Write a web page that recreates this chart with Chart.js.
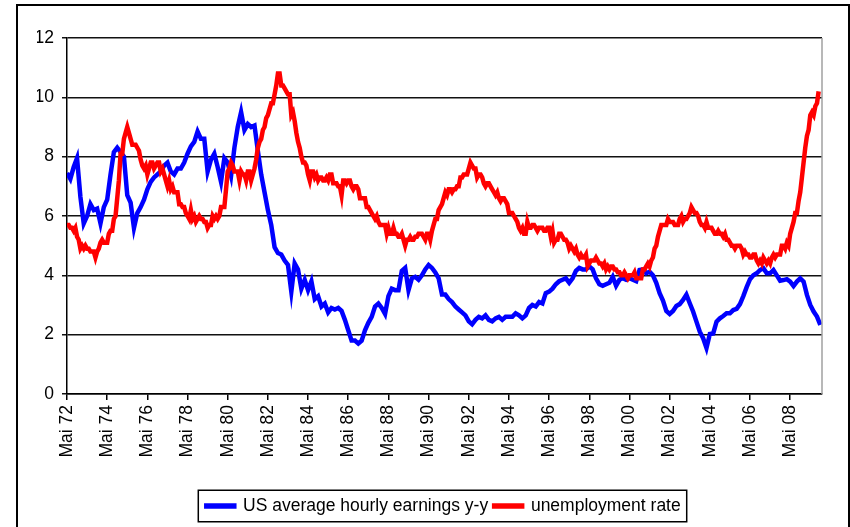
<!DOCTYPE html>
<html>
<head>
<meta charset="utf-8">
<script src="https://cdn.jsdelivr.net/npm/chart.js@4/dist/chart.umd.min.js"></script>
<style>
  body { margin: 0; background: #fff; }
  #wrap { position: absolute; left: 0; top: 0; width: 850px; height: 527px; }
  #frame { position: absolute; left: 16px; top: 4px; width: 830px; height: 540px; border: 2px solid #000; }
</style>
</head>
<body>
<div id="frame"></div>
<div id="wrap"><canvas id="chart" width="850" height="527"></canvas></div>
<script>
// x axis: months since May 1972; a tick every 24 months
const tickLabels = ['Mai 72', 'Mai 74', 'Mai 76', 'Mai 78', 'Mai 80', 'Mai 82', 'Mai 84', 'Mai 86', 'Mai 88', 'Mai 90',
                    'Mai 92', 'Mai 94', 'Mai 96', 'Mai 98', 'Mai 00', 'Mai 02', 'Mai 04', 'Mai 06', 'Mai 08'];

// unemployment rate, monthly, May 72 - Oct 09
const unemploymentRate = [
  5.7, 5.7, 5.6, 5.6, 5.5, 5.6, 5.3, 5.2,
  4.9, 5.0, 4.9, 5.0, 4.9, 4.9, 4.8, 4.8, 4.8, 4.6, 4.8, 4.9,
  5.1, 5.2, 5.1, 5.1, 5.1, 5.4, 5.5, 5.5, 5.9, 6.0, 6.6, 7.2,
  8.1, 8.1, 8.6, 8.8, 9.0, 8.8, 8.6, 8.4, 8.4, 8.4, 8.3, 8.2,
  7.9, 7.7, 7.6, 7.7, 7.4, 7.6, 7.8, 7.8, 7.6, 7.7, 7.8, 7.8,
  7.5, 7.6, 7.4, 7.2, 7.0, 7.2, 6.9, 7.0, 6.8, 6.8, 6.8, 6.4,
  6.4, 6.3, 6.3, 6.1, 6.0, 5.9, 6.2, 5.9, 6.0, 5.8, 5.9, 6.0,
  5.9, 5.9, 5.8, 5.8, 5.6, 5.7, 5.7, 6.0, 5.9, 6.0, 5.9, 6.0,
  6.3, 6.3, 6.3, 6.9, 7.5, 7.6, 7.8, 7.7, 7.5, 7.5, 7.5, 7.2,
  7.5, 7.4, 7.4, 7.2, 7.5, 7.5, 7.2, 7.4, 7.6, 7.9, 8.3, 8.5,
  8.6, 8.9, 9.0, 9.3, 9.4, 9.6, 9.8, 9.8, 10.1, 10.4, 10.8, 10.8,
  10.4, 10.4, 10.3, 10.2, 10.1, 10.1, 9.4, 9.5, 9.2, 8.8, 8.5, 8.3,
  8.0, 7.8, 7.8, 7.7, 7.4, 7.2, 7.5, 7.5, 7.3, 7.4, 7.2, 7.3,
  7.3, 7.2, 7.2, 7.3, 7.2, 7.4, 7.4, 7.1, 7.1, 7.1, 7.0, 7.0,
  6.7, 7.2, 7.2, 7.1, 7.2, 7.2, 7.0, 6.9, 7.0, 7.0, 6.9, 6.6,
  6.6, 6.6, 6.6, 6.3, 6.3, 6.2, 6.1, 6.0, 5.9, 6.0, 5.8, 5.7,
  5.7, 5.7, 5.7, 5.4, 5.6, 5.4, 5.4, 5.6, 5.4, 5.4, 5.3, 5.3,
  5.4, 5.2, 5.0, 5.2, 5.2, 5.3, 5.2, 5.2, 5.3, 5.3, 5.4, 5.4,
  5.4, 5.3, 5.2, 5.4, 5.4, 5.2, 5.5, 5.7, 5.9, 5.9, 6.2, 6.3,
  6.4, 6.6, 6.8, 6.7, 6.9, 6.9, 6.8, 6.9, 6.9, 7.0, 7.0, 7.3,
  7.3, 7.4, 7.4, 7.4, 7.6, 7.8, 7.7, 7.6, 7.6, 7.3, 7.4, 7.4,
  7.3, 7.1, 7.0, 7.1, 7.1, 7.0, 6.9, 6.8, 6.7, 6.8, 6.6, 6.5,
  6.6, 6.6, 6.5, 6.4, 6.1, 6.1, 6.1, 6.0, 5.9, 5.8, 5.6, 5.5,
  5.6, 5.4, 5.4, 5.8, 5.6, 5.6, 5.7, 5.7, 5.6, 5.5, 5.6, 5.6,
  5.6, 5.5, 5.5, 5.6, 5.6, 5.3, 5.5, 5.1, 5.2, 5.2, 5.4, 5.4,
  5.3, 5.2, 5.2, 5.1, 4.9, 5.0, 4.9, 4.8, 4.9, 4.7, 4.6, 4.7,
  4.6, 4.6, 4.7, 4.3, 4.4, 4.5, 4.5, 4.5, 4.6, 4.5, 4.4, 4.4,
  4.3, 4.4, 4.2, 4.3, 4.2, 4.3, 4.3, 4.2, 4.2, 4.1, 4.1, 4.0,
  4.0, 4.1, 4.0, 3.9, 4.0, 4.0, 4.0, 4.1, 3.9, 3.9, 3.9, 3.9,
  4.2, 4.2, 4.3, 4.4, 4.3, 4.5, 4.6, 4.9, 5.0, 5.3, 5.5, 5.7,
  5.7, 5.7, 5.7, 5.9, 5.8, 5.8, 5.8, 5.7, 5.7, 5.7, 5.9, 6.0,
  5.8, 5.9, 5.9, 6.0, 6.1, 6.3, 6.2, 6.1, 6.1, 6.0, 5.8, 5.7,
  5.7, 5.6, 5.8, 5.6, 5.6, 5.6, 5.5, 5.4, 5.4, 5.5, 5.4, 5.4,
  5.3, 5.4, 5.2, 5.2, 5.1, 5.0, 5.0, 4.9, 5.0, 5.0, 5.0, 4.9,
  4.7, 4.8, 4.7, 4.7, 4.6, 4.6, 4.7, 4.7, 4.5, 4.4, 4.5, 4.4,
  4.6, 4.5, 4.4, 4.5, 4.4, 4.6, 4.7, 4.6, 4.7, 4.7, 4.7, 5.0,
  5.0, 4.9, 5.1, 5.0, 5.4, 5.6, 5.8, 6.1, 6.1, 6.5, 6.8, 7.3,
  7.8, 8.3, 8.7, 8.9, 9.4, 9.5, 9.4, 9.7, 9.8, 10.2
];

// US average hourly earnings y-y, every second month, May 72 - Nov 09
const earningsYoY = [
  7.45, 7.25, 7.65, 7.95, 6.65, 5.75, 6.0, 6.4, 6.2, 6.25,
  5.75, 6.3, 6.55, 7.4, 8.15, 8.3, 8.15, 8.0, 6.7, 6.45,
  5.6, 6.1, 6.3, 6.55, 6.9, 7.15, 7.3, 7.4, 7.5, 7.7,
  7.8, 7.5, 7.4, 7.6, 7.6, 7.8, 8.1, 8.35, 8.5, 8.85,
  8.6, 8.6, 7.5, 7.9, 8.1, 7.65, 7.15, 7.95, 7.8, 7.35,
  8.3, 9.0, 9.5, 8.9, 9.1, 9.0, 9.05, 8.2, 7.4, 6.8,
  6.2, 5.7, 4.95, 4.75, 4.7, 4.5, 4.35, 3.45, 4.4, 4.2,
  3.55, 3.85, 3.5, 3.8, 3.2, 3.3, 2.95, 3.05, 2.75, 2.9,
  2.85, 2.9, 2.8, 2.5, 2.15, 1.8, 1.8, 1.7, 1.8, 2.15,
  2.4, 2.6, 2.95, 3.05, 2.9, 2.7, 3.3, 3.55, 3.5, 3.5,
  4.15, 4.25, 3.5, 3.9, 3.95, 3.85, 4.0, 4.2, 4.35, 4.25,
  4.1, 3.9, 3.35, 3.35, 3.2, 3.1, 2.95, 2.85, 2.75, 2.65,
  2.45, 2.35, 2.5, 2.6, 2.55, 2.65, 2.5, 2.45, 2.55, 2.6,
  2.5, 2.6, 2.6, 2.6, 2.72, 2.65, 2.55, 2.65, 2.9, 3.0,
  2.95, 3.1, 3.05, 3.4, 3.45, 3.55, 3.7, 3.8, 3.85, 3.9,
  3.75, 3.9, 4.15, 4.25, 4.2, 4.2, 4.3, 4.2, 3.9, 3.7,
  3.65, 3.7, 3.75, 3.95, 3.65, 3.85, 3.9, 3.85, 3.9, 3.85,
  3.8, 4.18, 4.2, 4.07, 4.12, 4.0, 3.75, 3.4, 3.15, 2.8,
  2.7, 2.8, 2.97, 3.03, 3.17, 3.35, 3.06, 2.78, 2.44, 2.1,
  1.88, 1.55, 2.02, 2.04, 2.44, 2.55, 2.63, 2.72, 2.72, 2.83,
  2.87, 3.03, 3.3, 3.6, 3.87, 4.0, 4.07, 4.18, 4.24, 4.07,
  4.07, 4.18, 4.0, 3.82, 3.84, 3.87, 3.79, 3.64, 3.79, 3.9,
  3.79, 3.34, 3.0, 2.78, 2.61, 2.33
];

const FONT = { family: "'Liberation Sans', Arial, sans-serif", size: 17.5 };

// legend frame + grey right edge of the plot area
const frames = {
  id: 'frames',
  afterLayout(chart) {
    // legend sits a bit right of the canvas middle, like the plot area
    const lg = chart.legend;
    const shift = 443.5 - (lg.left + lg.right) / 2;
    lg.left += shift;
    lg.right += shift;
  },
  afterDraw(chart) {
    const { ctx, chartArea, legend } = chart;
    ctx.save();
    ctx.strokeStyle = '#a0a0a0';
    ctx.lineWidth = 1.5;
    ctx.beginPath();
    ctx.moveTo(chartArea.right, chartArea.top);
    ctx.lineTo(chartArea.right, chartArea.bottom);
    ctx.stroke();

    const pad = legend.options.labels.padding;
    const w = legend.lineWidths[0] - pad;
    const x0 = (legend.left + pad + legend.right - legend.lineWidths[0]) / 2;
    const y0 = legend.top + pad;
    ctx.strokeStyle = '#000';
    ctx.lineWidth = 1.5;
    ctx.strokeRect(x0 - 8, y0 - 7, w + 14, FONT.size + 14);
    ctx.restore();
  }
};

new Chart(document.getElementById('chart'), {
  type: 'line',
  data: {
    datasets: [
      {
        label: 'unemployment rate',
        data: unemploymentRate.map((v, i) => ({ x: i, y: v })),
        borderColor: '#ff0000',
        backgroundColor: '#ff0000',
        borderWidth: 4.5,
        pointRadius: 0,
        tension: 0
      },
      {
        label: 'US average hourly earnings y-y',
        data: earningsYoY.map((v, i) => ({ x: i * 2, y: v })),
        borderColor: '#0000ff',
        backgroundColor: '#0000ff',
        borderWidth: 4.5,
        pointRadius: 0,
        tension: 0
      }
    ]
  },
  options: {
    responsive: false,
    animation: false,
    layout: { padding: { left: 37, right: 28, top: 38, bottom: 2.25 } },
    plugins: {
      tooltip: { enabled: false },
      legend: {
        position: 'bottom',
        reverse: true,
        labels: {
          font: FONT,
          color: '#000',
          boxWidth: 28,
          boxHeight: 1,
          padding: 6
        }
      }
    },
    scales: {
      x: {
        type: 'linear',
        min: 0,
        max: 451,
        afterBuildTicks: (axis) => {
          axis.ticks = tickLabels.map((_, i) => ({ value: i * 24 }));
        },
        afterFit: (axis) => { axis.height = 97.25; },
        ticks: {
          font: FONT,
          color: '#000',
          autoSkip: false,
          minRotation: 90,
          maxRotation: 90,
          padding: 5,
          callback: (v, i) => tickLabels[i]
        },
        grid: { drawOnChartArea: false, drawTicks: true, tickLength: 6, color: '#000', lineWidth: 1.5 },
        border: { color: '#000', width: 1.5 }
      },
      y: {
        min: 0,
        max: 12,
        afterFit: (axis) => { axis.width = 30; },
        ticks: { stepSize: 2, font: FONT, color: '#000', padding: 8 },
        grid: { color: '#111', lineWidth: 1.5, tickLength: 5 },
        border: { color: '#000', width: 1.5 }
      }
    }
  },
  plugins: [frames]
});
</script>
</body>
</html>
